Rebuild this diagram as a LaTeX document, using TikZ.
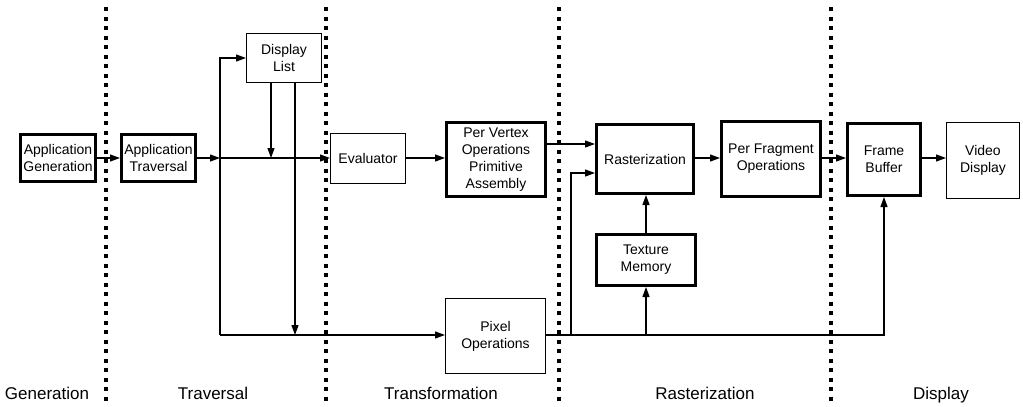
\documentclass[tikz,border=0pt]{standalone}
\usepackage{fontspec}
\setmainfont{Liberation Sans}
\usetikzlibrary{arrows.meta}
\begin{document}
\begin{tikzpicture}[x=1pt,y=-1pt,
  box/.style={draw,line width=1pt,inner sep=0pt,align=center,font=\fontsize{14}{17}\selectfont},
  thick box/.style={box,line width=3pt},
  arr/.style={line width=1.2pt,-{Triangle[length=10pt,width=7pt]}},
  ln/.style={line width=1.2pt},
  divider/.style={line width=3.2pt,dash pattern=on 4pt off 5.5pt},
  stage/.style={anchor=base,font=\fontsize{17}{20}\selectfont}]
\useasboundingbox (0,0) rectangle (1023,407);
% dividers
\coordinate (d1t) at (106,7); \coordinate (d1b) at (106,405);
\coordinate (d2t) at (326,7); \coordinate (d2b) at (326,405);
\coordinate (d3t) at (559,7); \coordinate (d3b) at (559,405);
\coordinate (d4t) at (831,7); \coordinate (d4b) at (831,405);
\draw[divider] (d1t) -- (d1b);
\draw[divider] (d2t) -- (d2b);
\draw[divider] (d3t) -- (d3b);
\draw[divider] (d4t) -- (d4b);
% boxes
\node[thick box,minimum width=75pt,minimum height=47pt] (appgen) at (58,158) {Application\\Generation};
\node[thick box,minimum width=74pt,minimum height=47pt] (apptrav) at (158.5,158) {Application\\Traversal};
\node[box,minimum width=75pt,minimum height=49pt] (dlist) at (284,58) {Display\\List};
\node[box,minimum width=75pt,minimum height=50pt] (eval) at (368,158.5) {Evaluator};
\node[thick box,minimum width=99pt,minimum height=74pt] (pervertex) at (496,159.5) {Per Vertex\\Operations\\Primitive\\Assembly};
\node[thick box,minimum width=97pt,minimum height=69pt] (raster) at (645,159) {Rasterization};
\node[thick box,minimum width=99pt,minimum height=75pt] (perfrag) at (771,159) {Per Fragment\\Operations};
\node[thick box,minimum width=73pt,minimum height=72pt] (framebuf) at (884,159.5) {Frame\\Buffer};
\node[box,minimum width=73pt,minimum height=76pt] (video) at (983,160.5) {Video\\Display};
\node[thick box,minimum width=99pt,minimum height=51pt] (texture) at (646,260) {Texture\\Memory};
\node[box,minimum width=100pt,minimum height=75pt] (pixelops) at (495.5,336) {Pixel\\Operations};
% junction coordinates
\coordinate (jtop) at (220,158);
\coordinate (jbot) at (220,335);
\coordinate (dl1) at (271,158);
\coordinate (dl2) at (295,335);
\coordinate (rb) at (571,335);
\coordinate (rbtop) at (571,173);
\coordinate (tb) at (646,335);
% connectors
\draw[arr] (appgen.east |- 0,158) -- (apptrav.west |- 0,158);
\draw[arr] (apptrav.east |- 0,158) -- (jtop);
\draw[arr] (jtop) -- (eval.west |- jtop);
\draw[ln] (jbot) -- (jtop);
\draw[arr] (jtop) |- (dlist.west);
\draw[arr] (jbot) -- (pixelops.west |- jbot);
\draw[arr] (dlist.south -| dl1) -- (dl1);
\draw[arr] (dlist.south -| dl2) -- (dl2);
\draw[arr] (eval.east |- 0,158) -- (pervertex.west |- 0,158);
\draw[arr] (pervertex.east |- 0,144) -- (raster.west |- 0,144);
\draw[arr] (rb) -- (rbtop) -- (raster.west |- rbtop);
\draw[arr] (pixelops.east |- 0,335) -| (framebuf.south);
\draw[arr] (tb) -- (texture.south);
\draw[arr] (texture.north) -- (raster.south -| texture.north);
\draw[arr] (raster.east |- 0,158) -- (perfrag.west |- 0,158);
\draw[arr] (perfrag.east |- 0,158) -- (framebuf.west |- 0,158);
\draw[arr] (framebuf.east |- 0,158) -- (video.west |- 0,158);
% stage labels
\node[stage] (sgen) at (47,399) {Generation};
\node[stage] (strav) at (213,399) {Traversal};
\node[stage] (strans) at (441,399) {Transformation};
\node[stage] (sras) at (705,399) {Rasterization};
\node[stage] (sdisp) at (941,399) {Display};
\end{tikzpicture}
\end{document}
